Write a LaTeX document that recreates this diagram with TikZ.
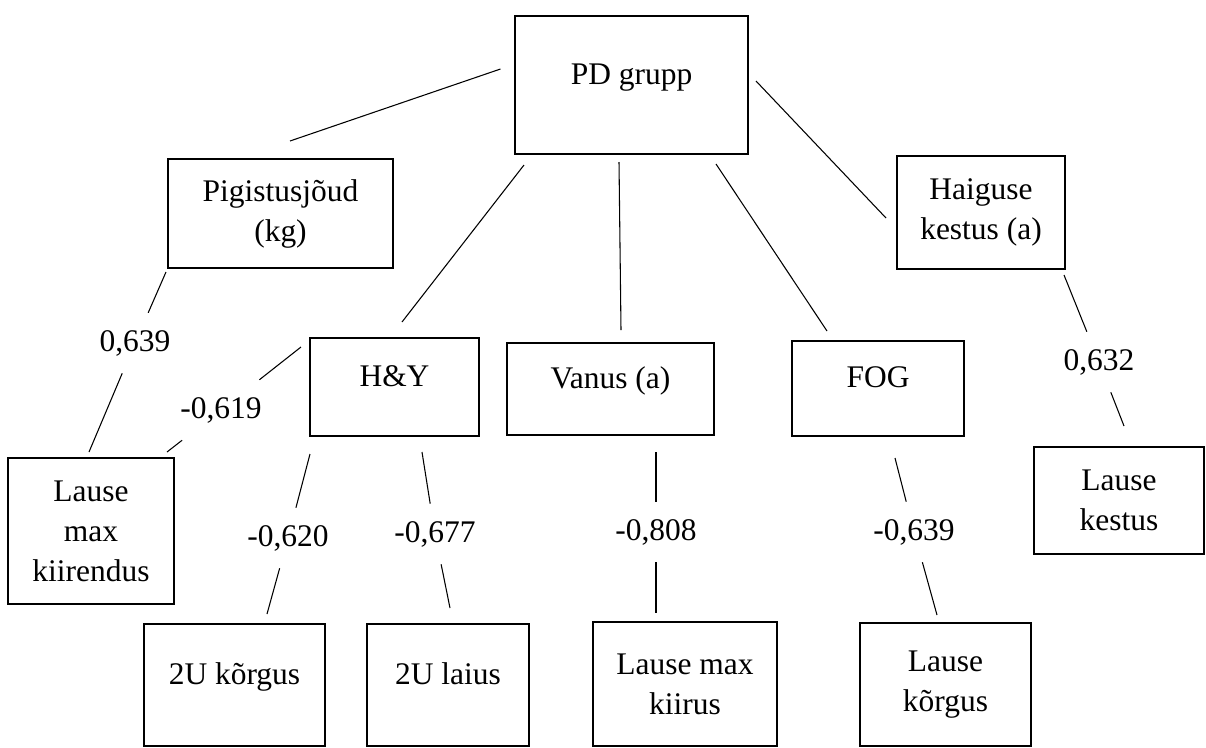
\documentclass[tikz,border=0pt]{standalone}
\usepackage{fontspec}
\setmainfont{Liberation Serif}
\usepackage{tikz}
\definecolor{ink}{HTML}{000000}
\definecolor{paper}{HTML}{FFFFFF}
\tikzset{
  box/.style 2 args={draw=ink, line width=2pt, minimum width=#1*0.75pt, minimum height=#2*0.75pt,
    inner sep=0pt, align=center, text=ink, font=\fontsize{23.6pt}{30pt}\selectfont},
  one/.style={text height=16.5pt, text depth=17.5pt},
  link/.style={draw=ink, line width=0.8pt},
  num/.style={text=ink, font=\fontsize{23.6pt}{30pt}\selectfont, inner xsep=3pt, inner ysep=0pt, minimum height=45pt}
}

\begin{document}
\begin{tikzpicture}[x=0.75pt, y=-0.75pt]
  \fill[paper] (0,0) rectangle (1206,747);
  \useasboundingbox (0,0) rectangle (1206,747);

  \node[box={233}{138}, one] (pd) at (631.5,85) {PD grupp};
  \node[box={225}{109}] (pig) at (280.5,213.5) {Pigistusjõud\\(kg)};
  \node[box={168}{113}] (haig) at (981,212.5) {Haiguse\\kestus (a)};
  \node[box={169}{98}, one] (hy) at (394.5,387) {H\&Y};
  \node[box={207}{92}, one] (vanus) at (610.5,389) {Vanus (a)};
  \node[box={172}{95}, one] (fog) at (878,388.5) {FOG};
  \node[box={166}{146}] (lmk) at (91,531) {Lause\\max\\kiirendus};
  \node[box={170}{107}] (lkestus) at (1119,500.5) {Lause\\kestus};
  \node[box={181}{122}, one] (ukorgus) at (234.5,685) {2U kõrgus};
  \node[box={162}{122}, one] (ulaius) at (448,685) {2U laius};
  \node[box={184}{124}] (lmkiirus) at (685,684) {Lause max\\kiirus};
  \node[box={171}{123}] (lkorgus) at (945.5,684.5) {Lause\\kõrgus};

  \coordinate (a1) at (500.5,69);  \coordinate (a2) at (290,141);
  \coordinate (b1) at (524,165);   \coordinate (b2) at (402,322);
  \coordinate (c1) at (619,162);   \coordinate (c2) at (621,330);
  \coordinate (d1) at (716,164);   \coordinate (d2) at (827,331);
  \coordinate (e1) at (756,81);    \coordinate (e2) at (886,218);

  \draw[link] (a1) -- (a2);
  \draw[link] (b1) -- (b2);
  \draw[link] (c1) -- (c2);
  \draw[link] (d1) -- (d2);
  \draw[link] (e1) -- (e2);

  \coordinate (f1) at (166,272);   \coordinate (f2) at (89,452);
  \coordinate (g1) at (301,347);   \coordinate (g2) at (167,452);
  \coordinate (h1) at (310,454);   \coordinate (h2) at (267,614);
  \coordinate (i1) at (422,452);   \coordinate (i2) at (450,608);
  \coordinate (j1) at (656,452);   \coordinate (j2) at (656,613);
  \coordinate (k1) at (895,458);   \coordinate (k2) at (937,615);
  \coordinate (l1) at (1064,275);  \coordinate (l2) at (1124,426);

  \node[num] (rf) at (135,343) {0,639};
  \node[num] (rg) at (221,410) {-0,619};
  \node[num] (rh) at (288,538) {-0,620};
  \node[num] (ri) at (435,534) {-0,677};
  \node[num] (rj) at (656,532) {-0,808};
  \node[num] (rk) at (914,532) {-0,639};
  \node[num] (rl) at (1099,362) {0,632};

  \draw[link] (f1) -- (rf) -- (f2);
  \draw[link] (g1) -- (rg) -- (g2);
  \draw[link] (h1) -- (rh) -- (h2);
  \draw[link] (i1) -- (ri) -- (i2);
  \draw[link] (j1) -- (rj) -- (j2);
  \draw[link] (k1) -- (rk) -- (k2);
  \draw[link] (l1) -- (rl) -- (l2);
\end{tikzpicture}
\end{document}
